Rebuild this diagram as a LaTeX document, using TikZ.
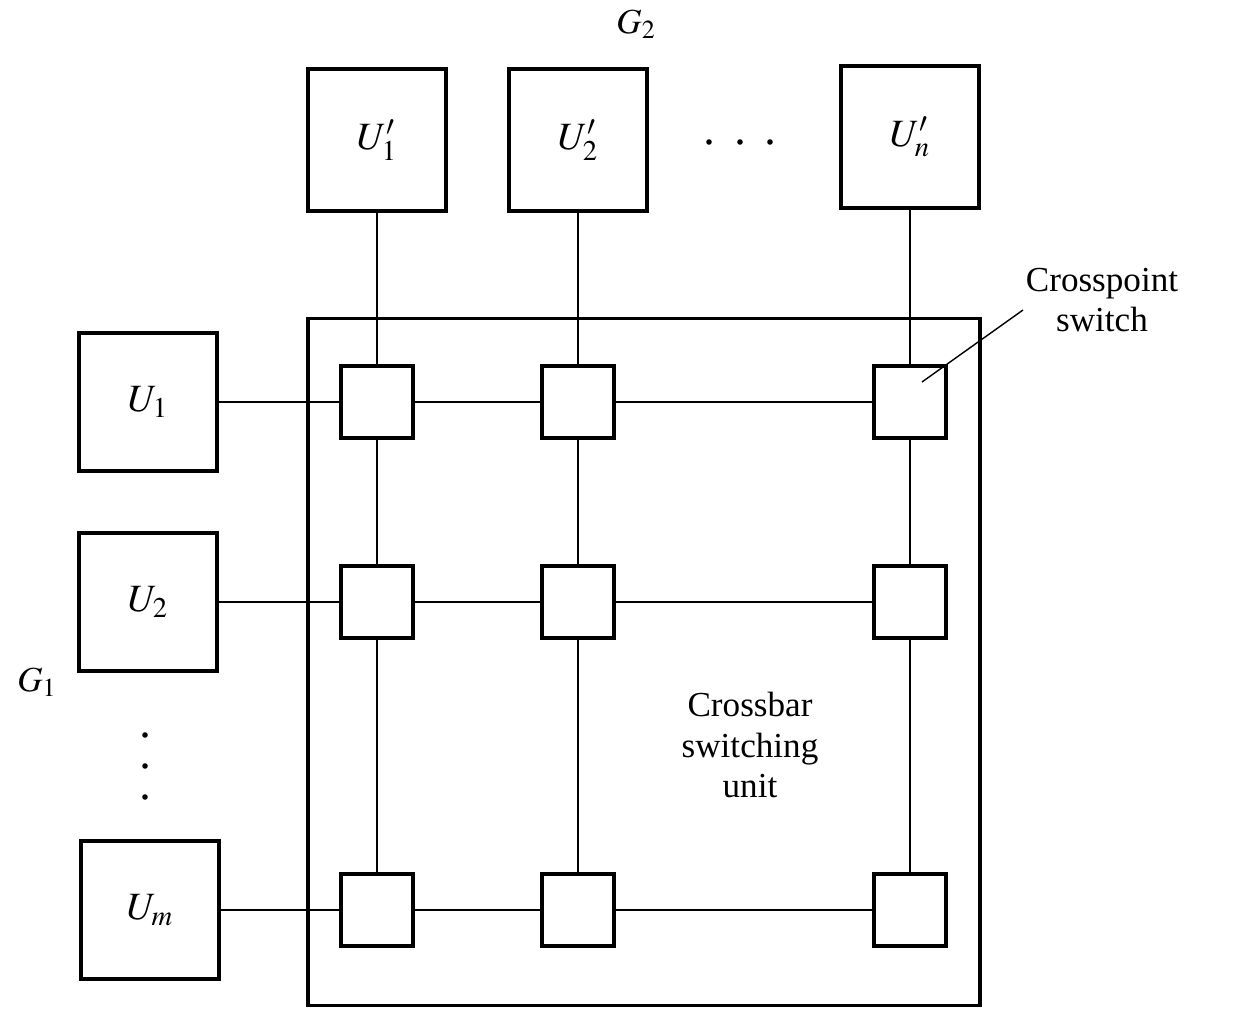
\documentclass[tikz,border=0pt]{standalone}
\usepackage{mathptmx}
\usepackage{fontspec}
\setmainfont{Liberation Serif}
\usetikzlibrary{positioning}

\begin{document}
\begin{tikzpicture}[x=0.02cm,y=-0.02cm,
   unit/.style={draw,line width=2pt,minimum width=2.76cm,minimum height=2.84cm,
     font=\fontsize{22}{26}\selectfont},
   xpoint/.style={draw,line width=2pt,minimum size=1.44cm},
   lbl/.style={font=\fontsize{20}{23}\selectfont,align=center},
   every edge/.style={draw,line width=0.8pt}]
  \useasboundingbox (0,0) rectangle (1241,1010);
  % crossbar switching unit
  \node[draw,line width=2pt,minimum width=13.44cm,minimum height=13.74cm] (bar) at (644,662) {};
  \node[lbl] (barlbl) at (750,745) {Crossbar\\switching\\unit};
  % G2 units
  \node[unit] (v1) at (377,140) {$U'_1$};
  \node[unit] (v2) at (578,140) {$U'_2$};
  \node[unit] (vn) at (910,137) {$U'_n$};
  \node[lbl] (g2) at (636,24) {$G_2$};
  % G1 units
  \node[unit,minimum height=2.76cm] (u1) at (148,402) {$U_1$};
  \node[unit,minimum height=2.76cm] (u2) at (148,602) {$U_2$};
  \node[unit,minimum height=2.76cm] (um) at (150,910) {$U_m$};
  \node[lbl] (g1) at (37,682) {$G_1$};
  % crosspoints
  \node[xpoint] (x11) at (377,402) {};
  \node[xpoint] (x12) at (578,402) {};
  \node[xpoint] (x1n) at (910,402) {};
  \node[xpoint] (x21) at (377,602) {};
  \node[xpoint] (x22) at (578,602) {};
  \node[xpoint] (x2n) at (910,602) {};
  \node[xpoint] (xm1) at (377,910) {};
  \node[xpoint] (xm2) at (578,910) {};
  \node[xpoint] (xmn) at (910,910) {};
  \node[lbl] (cplbl) at (1102,300) {Crosspoint\\switch};
  \coordinate (lead) at (1023,310);
  \coordinate (tip) at (922,382);
  \path
   (u1) edge (x11) (x11) edge (x12) (x12) edge (x1n)
   (u2) edge (x21) (x21) edge (x22) (x22) edge (x2n)
   (um) edge (xm1) (xm1) edge (xm2) (xm2) edge (xmn)
   (v1) edge (x11) (x11) edge (x21) (x21) edge (xm1)
   (v2) edge (x12) (x12) edge (x22) (x22) edge (xm2)
   (vn) edge (x1n) (x1n) edge (x2n) (x2n) edge (xmn)
   (lead) edge (tip);
  % dots
  \fill (709,142) circle (2.8) (740,142) circle (2.8) (770,142) circle (2.8);
  \fill (145,735) circle (2.8) (145,766) circle (2.8) (145,797) circle (2.8);
\end{tikzpicture}
\end{document}
